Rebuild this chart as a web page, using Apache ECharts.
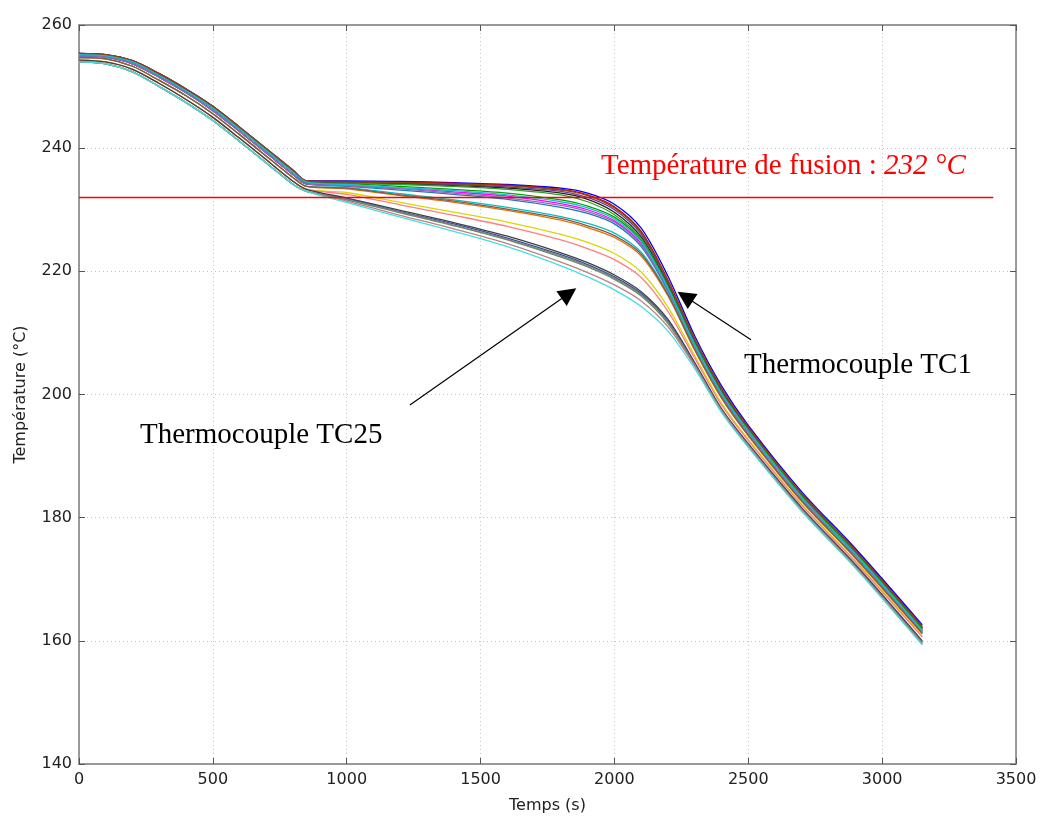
<!DOCTYPE html>
<html>
<head>
<meta charset="utf-8">
<script src="https://cdn.jsdelivr.net/npm/echarts@6/dist/echarts.min.js"></script>
<style>
html,body{margin:0;padding:0;background:#fff;}
#chart{width:1045px;height:821px;}
</style>
</head>
<body>
<div id="chart"></div>
<script>
// time samples (s)
const times = [0,100,200,300,400,500,600,700,800,850,1000,1200,1400,1600,1800,1900,2000,2100,2200,2300,2400,2500,2700,2900,3150];
const xTicks = [0,500,1000,1500,2000,2500,3000,3500];
const yTicks = [140,160,180,200,220,240,260];
const fusionTemp = 232;
const fusionLine = [[0,232],[3415,232]];

// thermocouple curves (°C)
const tc01 = [255.4,255.2,254.2,252.1,249.6,246.8,243.4,239.9,236.4,234.7, 234.7,234.6,234.4,234.1,233.5,232.7,230.9,227.0,219.2,209.5,201.4,195.0,184.2,175.0,162.6];
const tc02 = [255.4,255.2,254.2,252.1,249.6,246.8,243.4,239.9,236.4,234.7, 234.6,234.5,234.3,234.0,233.3,232.4,230.5,226.5,218.6,209.0,201.0,194.7,183.9,174.7,162.3];
const tc03 = [255.2,255.0,254.0,251.8,249.3,246.5,243.1,239.6,236.1,234.5, 234.5,234.3,234.1,233.7,233.0,232.0,230.0,226.0,218.2,208.7,200.7,194.5,183.7,174.5,162.1];
const tc04 = [255.2,255.0,254.0,251.8,249.3,246.5,243.1,239.6,236.1,234.5, 234.4,234.2,233.9,233.5,232.7,231.7,229.6,225.6,217.8,208.4,200.5,194.3,183.6,174.4,162.0];
const tc05 = [255.4,255.2,254.2,252.1,249.6,246.8,243.4,239.9,236.4,234.7, 234.5,234.4,234.2,233.9,233.2,232.3,230.3,226.3,218.4,208.9,200.9,194.6,183.8,174.6,162.2];
const tc06 = [255.2,255.0,254.0,251.8,249.3,246.5,243.1,239.6,236.1,234.5, 234.3,234.1,233.8,233.3,232.4,231.3,229.2,225.3,217.6,208.3,200.4,194.2,183.5,174.3,161.9];
const tc07 = [255.0,254.8,253.7,251.5,249.0,246.1,242.7,239.2,235.7,234.2, 234.2,233.8,233.3,232.7,231.6,230.6,228.8,225.0,217.5,208.3,200.3,194.2,183.4,174.2,161.8];
const tc08 = [255.0,254.8,253.7,251.5,249.0,246.1,242.7,239.2,235.7,234.2, 234.0,233.5,232.9,232.2,231.0,230.0,228.2,224.5,217.1,208.0,200.1,194.0,183.2,174.0,161.6];
const tc09 = [255.0,254.8,253.7,251.5,249.0,246.1,242.7,239.2,235.7,234.2, 233.8,233.2,232.5,231.7,230.4,229.4,227.7,224.0,216.8,207.8,199.9,193.8,183.1,173.9,161.5];
const tc10 = [255.0,254.8,253.7,251.5,249.0,246.1,242.7,239.2,235.7,234.2, 233.9,233.4,232.7,231.9,230.7,229.7,228.0,224.3,217.0,207.9,200.0,193.9,183.1,174.0,161.5];
const tc11 = [255.2,255.0,254.0,251.8,249.3,246.5,243.1,239.6,236.1,234.5, 234.1,233.6,233.1,232.4,231.3,230.3,228.5,224.8,217.3,208.1,200.2,194.1,183.3,174.1,161.7];
const tc12 = [254.7,254.5,253.3,251.0,248.5,245.6,242.2,238.7,235.2,233.8, 233.6,232.6,231.6,230.4,228.9,227.8,226.2,223.1,216.4,207.5,199.6,193.5,182.8,173.6,161.3];
const tc13 = [254.7,254.5,253.3,251.0,248.5,245.6,242.2,238.7,235.2,233.8, 233.4,232.3,231.2,229.9,228.3,227.1,225.5,222.5,216.0,207.2,199.4,193.3,182.6,173.4,161.1];
const tc14 = [254.7,254.5,253.3,251.0,248.5,245.6,242.2,238.7,235.2,233.8, 233.5,232.4,231.4,230.1,228.6,227.4,225.8,222.8,216.2,207.3,199.5,193.4,182.7,173.5,161.2];
const tc15 = [254.3,254.0,252.8,250.5,247.9,245.0,241.6,238.1,234.6,233.3, 232.8,231.2,229.6,228.0,226.0,224.7,222.9,219.9,214.2,206.3,198.6,192.7,182.2,173.0,160.8];
const tc16 = [254.3,254.0,252.8,250.5,247.9,245.0,241.6,238.1,234.6,233.3, 232.5,230.8,229.1,227.3,225.1,223.7,221.9,219.0,213.5,205.9,198.3,192.5,182.0,172.8,160.6];
const tc17 = [254.3,254.0,252.8,250.5,247.9,245.0,241.6,238.1,234.6,233.3, 231.9,229.9,227.9,225.7,223.0,221.4,219.4,216.7,212.2,205.2,197.7,192.0,181.6,172.4,160.0];
const tc18 = [254.0,253.7,252.4,250.0,247.4,244.5,241.1,237.6,234.1,233.0, 231.8,229.7,227.7,225.4,222.7,221.1,219.1,216.4,211.9,205.0,197.5,191.8,181.4,172.2,159.8];
const tc19 = [254.0,253.7,252.4,250.0,247.4,244.5,241.1,237.6,234.1,233.0, 231.6,229.5,227.4,225.1,222.3,220.7,218.7,216.0,211.5,204.7,197.3,191.6,181.2,172.0,159.6];
const tc20 = [254.0,253.7,252.4,250.0,247.4,244.5,241.1,237.6,234.1,233.0, 231.7,229.6,227.5,225.2,222.5,220.9,218.9,216.2,211.7,204.8,197.4,191.7,181.3,172.1,159.7];
const tc21 = [254.0,253.7,252.4,250.0,247.4,244.5,241.1,237.6,234.1,233.0, 231.4,229.1,226.9,224.5,221.5,219.8,217.8,215.2,211.0,204.6,197.4,191.7,181.2,172.0,159.5];
const tc22 = [254.0,253.7,252.4,250.0,247.4,244.5,241.1,237.6,234.1,233.0, 231.2,228.8,226.5,224.0,220.9,219.1,217.0,214.3,210.3,204.2,197.1,191.4,181.0,171.8,159.3];

const curves = [tc01,tc02,tc03,tc04,tc05,tc06,tc07,tc08,tc09,tc10,tc11,tc12,tc13,tc14,tc15,tc16,tc17,tc18,tc19,tc20,tc21,tc22];
const curveNames = curves.map((c,i)=>'TC'+(i+1));
const colors = ['#0000ff','#cc0000','#6a3d9a','#222222','#8b4513','#2ca02c','#00a000','#ff00ff','#1f78b4','#9467bd','#17becf',
                '#00c0c0','#e07000','#8c564b','#d8d800','#ff7f7f','#404040','#3050a0','#609060','#7f7f7f','#c08080','#40e0e0'];

const chart = echarts.init(document.getElementById('chart'), null, {renderer:'canvas'});

const labelFont = 'DejaVu Sans';
const axisColor = '#7a7a7a';
const plainNum = v => String(v);

const series = curves.map((vals, i) => ({
  name: curveNames[i],
  type: 'line',
  data: times.map((t, j) => [t, vals[j]]),
  showSymbol: false,
  smooth: 0.3,
  lineStyle: {width: 1.3, color: colors[i]},
  itemStyle: {color: colors[i]},
  z: 2,
  silent: true
}));

series.push({
  name: 'fusion',
  type: 'line',
  data: fusionLine,
  showSymbol: false,
  lineStyle: {width: 1.5, color: '#ff0000'},
  z: 5,
  silent: true
});

series.push({
  name: 'annotations',
  type: 'line',
  data: [],
  itemStyle: {color: '#000'},
  markLine: {
    silent: true,
    symbol: ['none', 'triangle'],
    symbolSize: 18,
    itemStyle: {color: '#000'},
    lineStyle: {color: '#000', width: 1.2, type: 'solid'},
    label: {show: false},
    data: [
      [{coord: [1236, 198.3]}, {coord: [1830, 216.4]}],
      [{coord: [2510, 208.9]}, {coord: [2264, 215.9]}]
    ]
  },
  z: 6
});

const option = {
  backgroundColor: '#fff',
  animation: false,
  grid: {left: 79, right: 29, top: 25, bottom: 57},
  xAxis: [{
    type: 'value', min: 0, max: 3500, interval: 500, position: 'bottom',
    name: 'Temps (s)', nameLocation: 'middle', nameGap: 34,
    nameTextStyle: {fontFamily: labelFont, fontSize: 16, color: '#222'},
    axisLine: {show: true, onZero: false, lineStyle: {color: axisColor, width: 1.5}},
    axisTick: {show: true, inside: true, length: 6, lineStyle: {color: '#555'}},
    axisLabel: {fontFamily: labelFont, fontSize: 16, color: '#222', margin: 8, formatter: plainNum},
    splitLine: {show: true, lineStyle: {color: '#c4c4c4', type: [1, 3], width: 1}}
  }, {
    type: 'value', min: 0, max: 3500, interval: 500, position: 'top',
    axisLine: {show: true, onZero: false, lineStyle: {color: axisColor, width: 1.5}},
    axisTick: {show: true, inside: true, length: 6, lineStyle: {color: '#555'}},
    axisLabel: {show: false}, splitLine: {show: false}
  }],
  yAxis: [{
    type: 'value', min: 140, max: 260, interval: 20, position: 'left',
    name: 'Température (°C)', nameLocation: 'middle', nameGap: 50,
    nameTextStyle: {fontFamily: labelFont, fontSize: 16, color: '#222'},
    axisLine: {show: true, onZero: false, lineStyle: {color: axisColor, width: 1.5}},
    axisTick: {show: true, inside: true, length: 6, lineStyle: {color: '#555'}},
    axisLabel: {fontFamily: labelFont, fontSize: 16, color: '#222', margin: 7, formatter: plainNum},
    splitLine: {show: true, lineStyle: {color: '#c4c4c4', type: [1, 3], width: 1}}
  }, {
    type: 'value', min: 140, max: 260, interval: 20, position: 'right',
    axisLine: {show: true, onZero: false, lineStyle: {color: axisColor, width: 1.5}},
    axisTick: {show: true, inside: true, length: 6, lineStyle: {color: '#555'}},
    axisLabel: {show: false}, splitLine: {show: false}
  }],
  graphic: [{
    type: 'text', x: 601, y: 166, silent: true, z: 100,
    style: {
      text: '{a|Température de fusion : }{b|' + fusionTemp + ' °C}',
      verticalAlign: 'middle', align: 'left',
      rich: {
        a: {fontFamily: 'Liberation Serif', fontSize: 29, fill: '#ff0000', color: '#ff0000'},
        b: {fontFamily: 'Liberation Serif', fontSize: 29, fontStyle: 'italic', fill: '#ff0000', color: '#ff0000'}
      }
    }
  }, {
    type: 'text', x: 140, y: 435, silent: true, z: 100,
    style: {text: 'Thermocouple TC25', fontFamily: 'Liberation Serif', fontSize: 29, fill: '#000', verticalAlign: 'middle', align: 'left'}
  }, {
    type: 'text', x: 744, y: 365, silent: true, z: 100,
    style: {text: 'Thermocouple TC1', fontFamily: 'Liberation Serif', fontSize: 29, fill: '#000', verticalAlign: 'middle', align: 'left'}
  }],
  series: series
};

chart.setOption(option);
</script>
</body>
</html>
